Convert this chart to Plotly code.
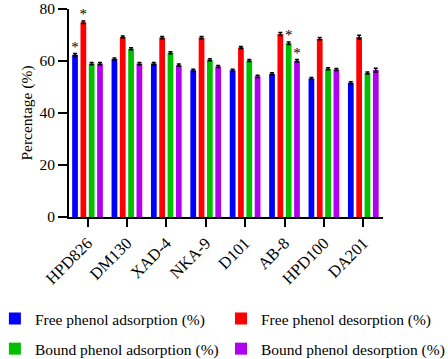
import plotly.graph_objects as go

categories = ["HPD826", "DM130", "XAD-4", "NKA-9", "D101", "AB-8", "HPD100", "DA201"]
free_ads = [62.4, 60.8, 59.0, 56.4, 56.4, 55.1, 53.3, 51.6]
free_des = [74.9, 69.2, 69.0, 69.0, 65.2, 70.4, 68.6, 69.2]
bound_ads = [59.0, 64.7, 63.2, 60.5, 60.2, 66.8, 57.0, 55.4]
bound_des = [59.0, 59.0, 58.4, 57.9, 54.1, 60.1, 56.7, 56.5]
free_ads_err = [0.5, 0.4, 0.4, 0.4, 0.4, 0.4, 0.4, 0.4]
free_des_err = [0.5, 0.4, 0.4, 0.4, 0.4, 0.6, 0.4, 0.7]
bound_ads_err = [0.4, 0.4, 0.4, 0.4, 0.4, 0.5, 0.4, 0.4]
bound_des_err = [0.4, 0.4, 0.4, 0.4, 0.4, 0.5, 0.4, 0.7]
free_ads_sig = ["*", "", "", "", "", "", "", ""]
free_des_sig = ["*", "", "", "", "", "", "", ""]
bound_ads_sig = ["", "", "", "", "", "*", "", ""]
bound_des_sig = ["", "", "", "", "", "*", "", ""]

names = ["Free phenol adsorption (%)", "Free phenol desorption (%)",
         "Bound phenol adsorption (%)", "Bound phenol desorption (%)"]
colors = ["#0000FF", "#FF0000", "#00C000", "#B000F0"]
series = [free_ads, free_des, bound_ads, bound_des]
errs = [free_ads_err, free_des_err, bound_ads_err, bound_des_err]
sigs = [free_ads_sig, free_des_sig, bound_ads_sig, bound_des_sig]
legend_ids = ["legend", "legend2", "legend3", "legend4"]
legend_pos = [(-0.236, -0.49), (0.484, -0.49), (-0.236, -0.635), (0.484, -0.635)]

FONT = "Liberation Serif, Times New Roman, serif"

fig = go.Figure()
for name, col, vals, err, sig, lg in zip(names, colors, series, errs, sigs, legend_ids):
    fig.add_trace(go.Bar(
        x=categories, y=vals, name=name, marker_color=col, marker_line_width=0,
        error_y=dict(type="data", array=err, color="black", thickness=1.5, width=2),
        text=sig, textposition="outside", cliponaxis=False,
        textfont=dict(family=FONT, size=15, color="black"),
        outsidetextfont=dict(family=FONT, size=15, color="black"),
        constraintext="none",
        legend=lg, showlegend=True,
    ))

legend_cfg = {}
for lg, (lx, ly) in zip(legend_ids, legend_pos):
    legend_cfg[lg] = dict(orientation="h", x=lx, xanchor="left", y=ly, yanchor="middle",
                          font=dict(size=15.5, family=FONT, color="black"),
                          bgcolor="rgba(0,0,0,0)", visible=True)

fig.update_layout(
    width=448, height=359,
    margin=dict(l=69, r=65, t=9, b=142, autoexpand=False),
    plot_bgcolor="white", paper_bgcolor="white",
    font=dict(family=FONT, size=14, color="black"),
    barmode="group", bargap=0.155, bargroupgap=0.31,
    showlegend=True,
    **legend_cfg,
)
fig.update_yaxes(range=[0, 80], tickvals=[0, 20, 40, 60, 80], showline=True,
                 linecolor="black", linewidth=2, ticks="outside", ticklen=9,
                 tickwidth=2, tickcolor="black", showgrid=False, zeroline=False,
                 title=dict(text="Percentage (%)", font=dict(size=15.5), standoff=3),
                 tickfont=dict(size=15.5))
fig.update_xaxes(showline=True, linecolor="black", linewidth=2, ticks="outside",
                 ticklen=8, tickwidth=2, tickcolor="black", tickangle=-45,
                 tickfont=dict(size=16.5), range=[-0.47, 7.5])

fig.write_html("out.html", config={"displayModeBar": False},
               post_script="document.body.style.margin='0';")
